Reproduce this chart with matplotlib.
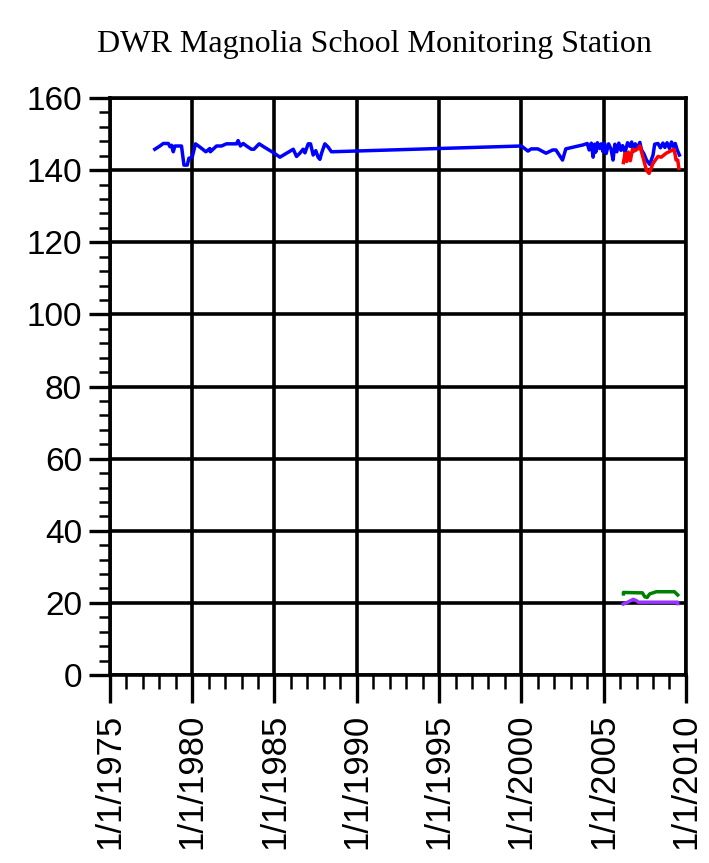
import numpy as np
import matplotlib.pyplot as plt

# decimal years / values
blue_years = [1977.73, 1978.04, 1978.24, 1978.55, 1978.65, 1978.75, 1978.85, 1978.95, 1979.35,
              1979.5, 1979.7, 1979.8, 1980.0, 1980.2, 1980.47, 1980.83, 1981.07, 1981.1, 1981.48,
              1981.78, 1982.08, 1982.69, 1982.79, 1982.93, 1983.1, 1983.3, 1983.6, 1983.75, 1984.07,
              1984.41, 1984.92, 1985.33, 1986.14, 1986.34, 1986.54, 1986.74, 1986.85, 1987.05,
              1987.19, 1987.35, 1987.51, 1987.65, 1987.76, 1987.86, 1988.06, 1988.26, 1988.46,
              2000.0, 2000.4, 2000.6, 2001.0, 2001.5, 2001.9, 2002.1, 2002.5, 2002.7, 2003.45,
              2003.75, 2004.0, 2004.12, 2004.25, 2004.36, 2004.45, 2004.52, 2004.62, 2004.75,
              2004.85, 2004.95, 2005.05, 2005.15, 2005.3, 2005.45, 2005.57, 2005.68, 2005.8,
              2005.92, 2006.05, 2006.15, 2006.3, 2006.45, 2006.6, 2006.7, 2006.8, 2006.92,
              2007.05, 2007.2, 2007.3, 2007.45, 2007.6, 2007.8, 2008.0, 2008.1, 2008.3, 2008.45,
              2008.6, 2008.72, 2008.85, 2009.0, 2009.12, 2009.25, 2009.35, 2009.47, 2009.6]
blue_vals = [145.8, 146.7, 147.4, 147.4, 146.5, 146.9, 145.1, 146.7, 146.7,
             141.4, 141.4, 143.3, 143.6, 147.3, 146.4, 145.1, 146.0, 145.1, 146.7,
             146.7, 147.3, 147.3, 148.2, 146.7, 147.4, 146.7, 145.8, 145.8, 147.3,
             146.3, 144.9, 143.6, 145.8, 143.8, 144.7, 145.8, 144.8, 147.3,
             147.3, 144.2, 145.4, 143.6, 143.0, 144.7, 147.3, 146.4, 145.1,
             146.7, 145.3, 145.9, 145.9, 144.7, 145.6, 145.6, 142.8, 145.9, 146.7,
             147.0, 147.4, 145.6, 147.5, 143.6, 147.2, 145.0, 147.6, 146.0,
             147.3, 145.2, 147.5, 144.6, 147.3, 145.8, 142.8, 147.2, 145.1,
             147.5, 145.5, 146.8, 144.9, 147.6, 146.6, 147.8, 145.2, 147.3,
             146.0, 147.7, 145.6, 144.5, 142.8, 141.6, 144.2, 147.2, 147.4, 146.2,
             147.5, 146.3, 147.6, 146.0, 147.8, 146.5, 147.4, 145.6, 144.2]

red_years = [2006.2, 2006.3, 2006.4, 2006.5, 2006.62, 2006.75, 2006.9, 2007.1, 2007.2, 2007.35,
             2007.6, 2007.76, 2008.0, 2008.3, 2008.5, 2008.8, 2009.1, 2009.26, 2009.33, 2009.4,
             2009.5, 2009.57]
red_vals = [142.1, 144.6, 142.4, 145.0, 142.6, 145.8, 145.4, 146.0, 146.7, 144.2,
            140.0, 139.1, 141.9, 143.8, 143.6, 144.7, 145.4, 145.8, 144.6, 142.8,
            142.8, 140.5]

green_years = [2006.2, 2006.2, 2007.1, 2007.35, 2007.5, 2007.64, 2007.8, 2008.2, 2009.3, 2009.5]
green_vals = [22.5, 22.9, 22.8, 22.8, 21.7, 21.5, 22.5, 23.1, 23.1, 22.2]

purple_years = [2006.2, 2006.5, 2006.8, 2007.0, 2007.1, 2009.5, 2009.5]
purple_vals = [19.7, 20.3, 21.0, 20.6, 20.2, 20.2, 19.8]

year_ticks = [1975, 1980, 1985, 1990, 1995, 2000, 2005, 2010]
year_labels = ["1/1/%d" % y for y in year_ticks]

fig = plt.figure(figsize=(7.09, 8.63), dpi=100)
ax = fig.add_axes([0.155, 0.2178, 0.8125, 0.6686])

ax.plot(blue_years, blue_vals, color="#0000ff", lw=2.5)
ax.plot(red_years, red_vals, color="#ff0000", lw=2.5)
ax.plot(green_years, green_vals, color="#008000", lw=2.5)
ax.plot(purple_years, purple_vals, color="#9933ff", lw=2.5)

ax.set_xlim(1975, 2010)
ax.set_ylim(0, 160)
ax.set_xticks(year_ticks)
ax.set_xticks(np.arange(1975, 2011, 1), minor=True)
ax.set_xticklabels(year_labels, rotation=90, fontsize=25, family="Liberation Sans")
ax.set_yticks(np.arange(0, 161, 20))
ax.set_yticks(np.arange(0, 161, 4), minor=True)
ax.set_yticklabels([str(v) for v in range(0, 161, 20)], fontsize=24, family="Liberation Sans")

ax.grid(True, which="major", color="black", lw=2.6)
ax.set_axisbelow(True)
for s in ax.spines.values():
    s.set_linewidth(2.6)
ax.tick_params(which="major", length=15, width=2.4, pad=5)
ax.tick_params(which="minor", length=8, width=1.8)
ax.tick_params(axis="x", which="major", length=20, pad=8)
ax.tick_params(axis="x", which="minor", length=10)

fig.suptitle("DWR Magnolia School Monitoring Station", family="Liberation Serif",
             fontsize=23, x=0.528, y=0.965)

plt.savefig("out.png", dpi=100)
